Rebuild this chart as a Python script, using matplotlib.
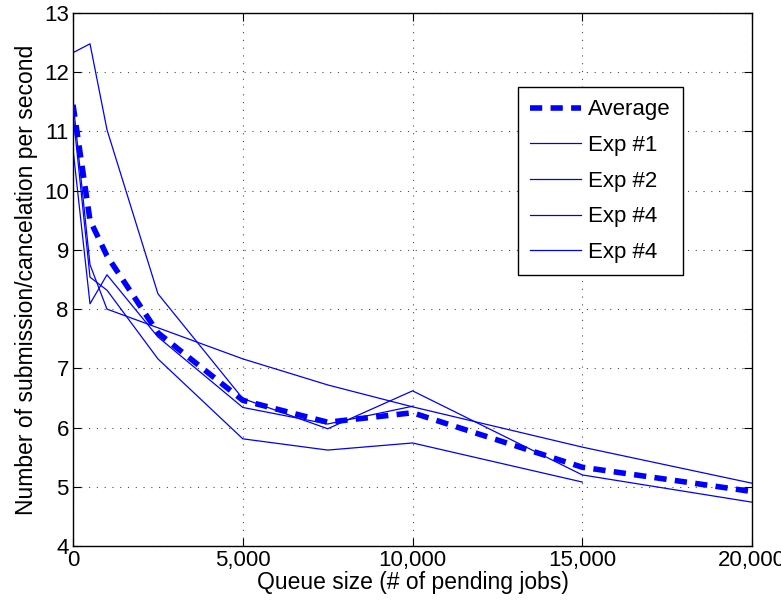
import numpy as np
import matplotlib.pyplot as plt
from matplotlib.ticker import FuncFormatter

# ---data--- #
queue_avg = [0, 500, 1000, 2500, 5000, 7500, 10000, 15000, 20000]
rate_avg = [11.45, 9.5, 8.9, 7.6, 6.46, 6.09, 6.25, 5.33, 4.92]

queue_1 = [0, 500, 1000, 2500, 5000, 7500, 10000, 15000, 20000]
rate_1 = [12.33, 12.48, 11.03, 8.26, 6.49, 5.98, 6.62, 5.2, 4.74]

queue_2 = [0, 500, 1000, 5000, 7500, 10000, 15000, 20000]
rate_2 = [11.5, 8.75, 8.0, 7.16, 6.72, 6.35, 5.67, 5.06]

queue_3 = [0, 500, 1000, 2500, 5000, 7500, 10000, 15000]
rate_3 = [11.3, 8.54, 8.32, 7.16, 5.81, 5.62, 5.74, 5.08]

queue_4 = [0, 500, 1000, 2500, 5000, 7500, 10000]
rate_4 = [10.7, 8.09, 8.58, 7.53, 6.34, 6.06, 6.36]

labels = ['Average', 'Exp #1', 'Exp #2', 'Exp #4', 'Exp #4']
x_ticks = [0, 5000, 10000, 15000, 20000]
y_ticks = [4, 5, 6, 7, 8, 9, 10, 11, 12, 13]

# ---plot--- #
plt.rcParams['font.family'] = ['Liberation Sans', 'DejaVu Sans']
fig = plt.figure(figsize=(7.81, 6.05), dpi=100)
ax = fig.add_axes([0.0935, 0.0975, 0.8695, 0.881])

blue = (0, 0, 1)
ax.plot(queue_avg, rate_avg, color=blue, lw=4, dashes=(2.2, 1.5), label=labels[0], zorder=3)
ax.plot(queue_1, rate_1, color=blue, lw=0.9, label=labels[1])
ax.plot(queue_2, rate_2, color=blue, lw=0.9, label=labels[2])
ax.plot(queue_3, rate_3, color=blue, lw=0.9, label=labels[3])
ax.plot(queue_4, rate_4, color=blue, lw=0.9, label=labels[4])

ax.set_xlim(0, 20000)
ax.set_ylim(4, 13)
ax.set_xticks(x_ticks)
ax.set_yticks(y_ticks)
ax.xaxis.set_major_formatter(FuncFormatter(lambda v, p: f'{int(v):,}'))
ax.tick_params(direction='in', top=True, right=True, labelsize=16, length=6, width=0.8, pad=3)
ax.grid(True, color='0.3', linestyle=(0, (1, 6)), linewidth=0.8)
for s in ax.spines.values():
    s.set_linewidth(1.0)

ax.set_xlabel('Queue size (# of pending jobs)', fontsize=16.5, labelpad=0)
ax.set_ylabel('Number of submission/cancelation per second', fontsize=16.5, labelpad=4)

leg = ax.legend(loc='upper left', bbox_to_anchor=(0.655, 0.861), fontsize=16,
                fancybox=False, edgecolor='black', framealpha=1, handlelength=2.3,
                handletextpad=0.3, borderpad=0.55, labelspacing=0.66, borderaxespad=0)
leg.get_frame().set_linewidth(1.0)

fig.savefig('out.png', dpi=100)
